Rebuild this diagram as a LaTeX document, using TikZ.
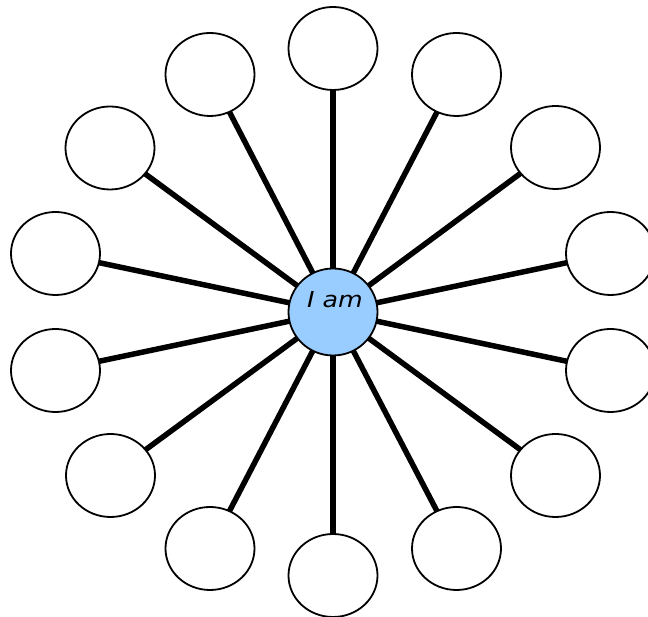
\documentclass[tikz,border=0pt]{standalone}
\usepackage{fontspec}
\setsansfont{DejaVu Sans}
\usetikzlibrary{backgrounds,shapes.geometric}
\definecolor{hubblue}{HTML}{99CCFF}
\tikzset{
  leaf/.style={draw=black, line width=1.8pt, fill=white, shape=ellipse,
    minimum width=89pt, minimum height=83pt, inner sep=0pt},
  hub/.style={draw=black, line width=1.8pt, fill=hubblue, shape=ellipse,
    minimum width=89pt, minimum height=87pt, inner sep=0pt},
  spoke/.style={line width=5.5pt, black}
}
\begin{document}
\begin{tikzpicture}[x=1pt, y=1pt]
  \useasboundingbox (0,0) rectangle (648,617);
  % central hub
  \node[hub] (hub) at (333,305) {};
  \node[font=\sffamily\itshape\fontsize{22}{26}\selectfont, xscale=1.15, inner sep=0pt]
    (label) at (335,317) {I am};
  % surrounding circles (clockwise from the top)
  \node[leaf] (n1)  at (333,568.5) {};
  \node[leaf] (n2)  at (456.5,542.5) {};
  \node[leaf] (n3)  at (555.5,469.5) {};
  \node[leaf] (n4)  at (610.5,363.5) {};
  \node[leaf] (n5)  at (610.5,246.5) {};
  \node[leaf] (n6)  at (555.5,141.5) {};
  \node[leaf] (n7)  at (456.5,68.5) {};
  \node[leaf] (n8)  at (333,41.5) {};
  \node[leaf] (n9)  at (210,68.5) {};
  \node[leaf] (n10) at (110.5,141.5) {};
  \node[leaf] (n11) at (55.5,246.5) {};
  \node[leaf] (n12) at (55.5,363.5) {};
  \node[leaf] (n13) at (110,469) {};
  \node[leaf] (n14) at (210,542.5) {};
  % spokes from hub to every circle, behind the nodes
  \begin{scope}[on background layer]
    \foreach \i in {1,...,14}
      \draw[spoke] (hub.center) -- (n\i.center);
  \end{scope}
\end{tikzpicture}
\end{document}
